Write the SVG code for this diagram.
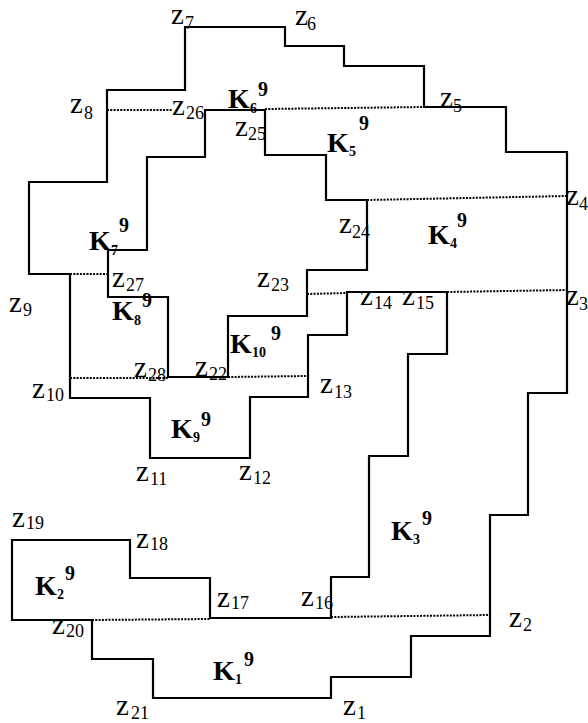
<svg xmlns="http://www.w3.org/2000/svg" width="588" height="723" viewBox="0 0 588 723">
<style>
.solid{fill:none;stroke:#000;stroke-width:2.2;stroke-linejoin:miter}
.dot{fill:none;stroke:#000;stroke-width:2;stroke-dasharray:2 1.3}
.z{font-family:"Liberation Serif","Times New Roman",serif;font-size:29px;fill:#000}
.zs{font-size:18px}
.k{font-family:"Liberation Serif","Times New Roman",serif;font-size:28px;font-weight:bold;fill:#000}
.ks{font-size:14px;font-weight:bold}
.kp{font-size:20px;font-weight:bold}
</style>
<rect width="588" height="723" fill="#fff"/>
<g id="outlines">
<path id="outer" class="solid" d="M185,27 H285 V46 H344 V66 H424 V107 H506 V152 H567 V393 H528 V515 H490 V636 H411 V677 H331 V698 H153 V659 H92 V620 H12 V540 H130 V578 H210 V618 H331 V577 H369 V456 H408 V354 H447 V292 H347 V335 H308 V397 H250 V458 H150 V398 H70 V274 H29 V182 H107 V90 H185 Z"/>
<path id="inner" class="solid" d="M205,110 H265 V155 H326 V200 H367 V270 H307 V316 H228 V377 H168 V297 H108 V250 H147 V157 H205 Z"/>
</g>
<g id="connectors">
<line class="dot" x1="107" y1="110" x2="173" y2="110"/>
<line class="dot" x1="265" y1="109" x2="424" y2="107"/>
<line class="dot" x1="367" y1="200" x2="567" y2="196"/>
<line class="dot" x1="307" y1="294" x2="347" y2="293"/>
<line class="dot" x1="447" y1="292" x2="567" y2="290"/>
<line class="dot" x1="70" y1="274" x2="108" y2="274"/>
<line class="dot" x1="70" y1="378" x2="168" y2="378"/>
<line class="dot" x1="228" y1="377" x2="308" y2="376"/>
<line class="dot" x1="92" y1="620" x2="210" y2="619"/>
<line class="dot" x1="331" y1="617" x2="490" y2="615"/>
</g>
<g id="points">
<text class="z" x="171" y="24">z<tspan class="zs" x="185" y="29">7</tspan></text>
<text class="z" x="295" y="25">z<tspan class="zs" x="307" y="30">6</tspan></text>
<text class="z" x="70" y="113">z<tspan class="zs" x="84" y="119">8</tspan></text>
<text class="z" x="172" y="115">z<tspan class="zs" x="186" y="119">26</tspan></text>
<text class="z" x="235" y="136">z<tspan class="zs" x="248" y="140">25</tspan></text>
<text class="z" x="440" y="107">z<tspan class="zs" x="453" y="112">5</tspan></text>
<text class="z" x="566" y="205">z<tspan class="zs" x="579" y="210">4</tspan></text>
<text class="z" x="339" y="233">z<tspan class="zs" x="352" y="238">24</tspan></text>
<text class="z" x="257" y="287">z<tspan class="zs" x="271" y="291">23</tspan></text>
<text class="z" x="112" y="287">z<tspan class="zs" x="126" y="291">27</tspan></text>
<text class="z" x="9" y="312">z<tspan class="zs" x="23" y="316">9</tspan></text>
<text class="z" x="566" y="305">z<tspan class="zs" x="579" y="310">3</tspan></text>
<text class="z" x="360" y="305">z<tspan class="zs" x="374" y="309">14</tspan></text>
<text class="z" x="402" y="305">z<tspan class="zs" x="416" y="309">15</tspan></text>
<text class="z" x="134" y="377">z<tspan class="zs" x="148" y="381">28</tspan></text>
<text class="z" x="195" y="376">z<tspan class="zs" x="209" y="380">22</tspan></text>
<text class="z" x="320" y="393">z<tspan class="zs" x="334" y="398">13</tspan></text>
<text class="z" x="32" y="398">z<tspan class="zs" x="46" y="401">10</tspan></text>
<text class="z" x="136" y="481">z<tspan class="zs" x="150" y="485">11</tspan></text>
<text class="z" x="239" y="480">z<tspan class="zs" x="253" y="484">12</tspan></text>
<text class="z" x="12" y="527">z<tspan class="zs" x="26" y="529">19</tspan></text>
<text class="z" x="136" y="548">z<tspan class="zs" x="150" y="550">18</tspan></text>
<text class="z" x="217" y="607">z<tspan class="zs" x="231" y="609">17</tspan></text>
<text class="z" x="301" y="606">z<tspan class="zs" x="315" y="609">16</tspan></text>
<text class="z" x="509" y="627">z<tspan class="zs" x="523" y="631">2</tspan></text>
<text class="z" x="52" y="634">z<tspan class="zs" x="66" y="637">20</tspan></text>
<text class="z" x="116" y="715">z<tspan class="zs" x="131" y="719">21</tspan></text>
<text class="z" x="343" y="715">z<tspan class="zs" x="357" y="719">1</tspan></text>
</g>
<g id="regions">
<g id="K1"><text class="k" x="213" y="680">K<tspan class="ks" x="235" y="684">1</tspan><tspan class="kp" x="244" y="666">9</tspan></text></g>
<g id="K2"><text class="k" x="35" y="595">K<tspan class="ks" x="57" y="599">2</tspan><tspan class="kp" x="65" y="580">9</tspan></text></g>
<g id="K3"><text class="k" x="391" y="540">K<tspan class="ks" x="413" y="544">3</tspan><tspan class="kp" x="422" y="525">9</tspan></text></g>
<g id="K4"><text class="k" x="428" y="244">K<tspan class="ks" x="450" y="248">4</tspan><tspan class="kp" x="457" y="227">9</tspan></text></g>
<g id="K5"><text class="k" x="327" y="152">K<tspan class="ks" x="349" y="156">5</tspan><tspan class="kp" x="359" y="130">9</tspan></text></g>
<g id="K6"><text class="k" x="228" y="108">K<tspan class="ks" x="250" y="113">6</tspan><tspan class="kp" x="258" y="96">9</tspan></text></g>
<g id="K7"><text class="k" x="89" y="250">K<tspan class="ks" x="111" y="255">7</tspan><tspan class="kp" x="119" y="232">9</tspan></text></g>
<g id="K8"><text class="k" x="112" y="320">K<tspan class="ks" x="134" y="325">8</tspan><tspan class="kp" x="142" y="307">9</tspan></text></g>
<g id="K9"><text class="k" x="171" y="438">K<tspan class="ks" x="193" y="442">9</tspan><tspan class="kp" x="201" y="426">9</tspan></text></g>
<g id="K10"><text class="k" x="230" y="353">K<tspan class="ks" x="252" y="357">10</tspan><tspan class="kp" x="271" y="340">9</tspan></text></g>
</g>
</svg>
